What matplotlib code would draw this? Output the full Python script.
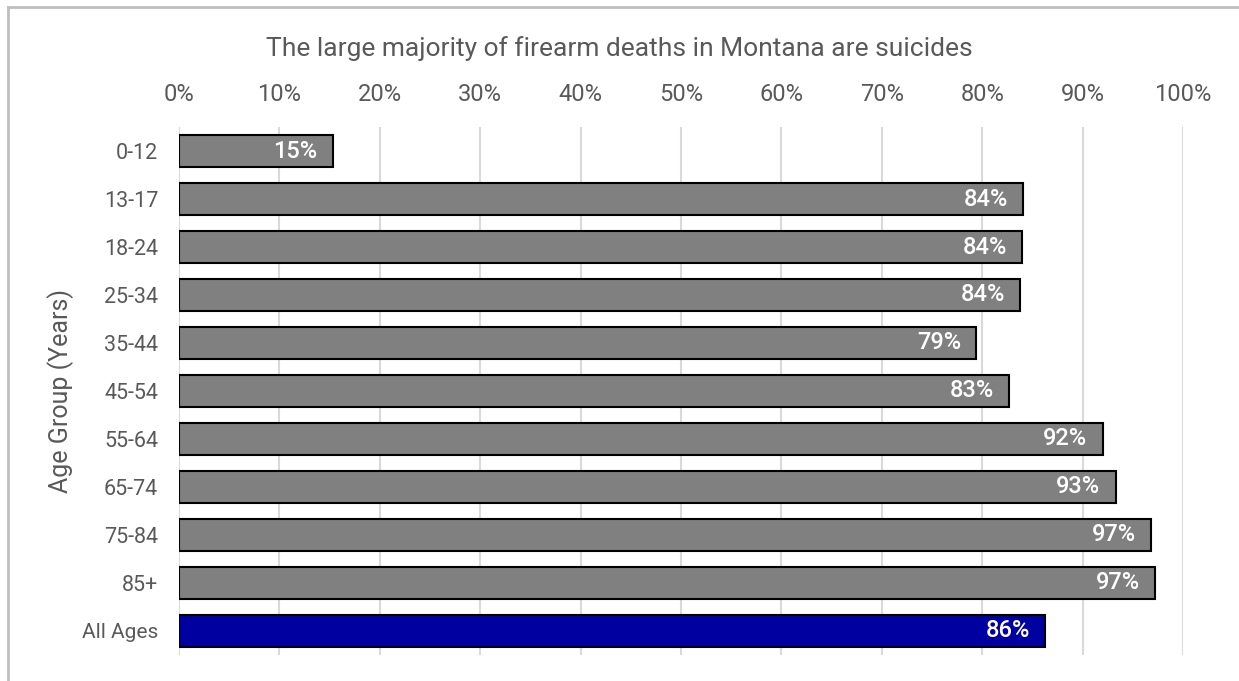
import matplotlib.pyplot as plt
from matplotlib.lines import Line2D

# Share of firearm deaths that are suicides, by age group
age_groups = ["0-12", "13-17", "18-24", "25-34", "35-44", "45-54",
              "55-64", "65-74", "75-84", "85+", "All Ages"]
pct_suicide = [15.3, 84.1, 84.0, 83.8, 79.4, 82.7, 92.0, 93.3, 96.8, 97.2, 86.3]
pct_labels = ["15%", "84%", "84%", "84%", "79%", "83%",
              "92%", "93%", "97%", "97%", "86%"]
x_ticks = [0, 10, 20, 30, 40, 50, 60, 70, 80, 90, 100]

plt.rcParams['font.family'] = ['Roboto', 'DejaVu Sans']
txt = '#595959'

fig = plt.figure(figsize=(12.39, 6.81), dpi=100)
ax = fig.add_axes([0.1445, 0.0382, 0.8103, 0.7753])

colors = ['#808080'] * (len(age_groups) - 1) + ['#0000A0']
ypos = list(range(len(age_groups)))
bars = ax.barh(ypos, pct_suicide, height=0.66, color=colors,
               edgecolor='black', linewidth=1.5, zorder=3)

for b, lab in zip(bars, pct_labels):
    ax.annotate(lab, xy=(b.get_width(), b.get_y() + b.get_height() / 2),
                xytext=(-11, 0), textcoords='offset points',
                ha='right', va='center', color='white', fontsize=17,
                fontweight='medium', zorder=4)

ax.set_xlim(0, 100)
ax.set_ylim(len(age_groups) - 0.5, -0.5)
ax.set_xticks(x_ticks)
ax.set_xticklabels([f"{t}%" for t in x_ticks])
ax.xaxis.tick_top()
ax.set_yticks(ypos)
ax.set_yticklabels(age_groups)
ax.tick_params(axis='x', length=0, pad=15, labelsize=17, labelcolor=txt)
ax.tick_params(axis='y', length=0, pad=15, labelsize=15.5, labelcolor=txt)
for lbl in ax.get_yticklabels():
    if lbl.get_text() == "All Ages":
        lbl.set_fontsize(15)

ax.grid(axis='x', color='#D9D9D9', linewidth=1.5, zorder=0)
for s in ax.spines.values():
    s.set_visible(False)

ax.set_ylabel("Age Group (Years)", fontsize=18, color=txt, labelpad=6)

fig.text(0.5, 0.929, "The large majority of firearm deaths in Montana are suicides",
         ha='center', va='center', fontsize=19, color=txt)

# outer frame (left and top edges visible)
fig.add_artist(Line2D([0.0065, 0.0065], [0, 0.99], transform=fig.transFigure,
                      color='#BFBFBF', linewidth=2))
fig.add_artist(Line2D([0.0065, 1], [0.99, 0.99], transform=fig.transFigure,
                      color='#BFBFBF', linewidth=2))

fig.savefig("out.png", dpi=100)
